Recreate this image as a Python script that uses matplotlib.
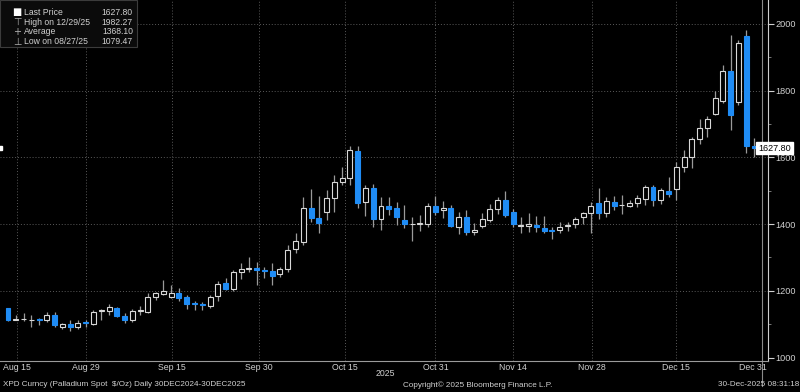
"""Palladium spot (XPD) daily candles, Bloomberg terminal style, Aug-Dec 2025."""

import matplotlib
matplotlib.use("Agg")
import matplotlib.pyplot as plt
import matplotlib.transforms as mtransforms
from matplotlib.patches import Rectangle

# daily OHLC, one entry per trading session (first = mid Aug, last = 30 Dec 2025)
opens = [1148, 1114, 1115, 1112, 1116, 1113, 1128, 1093, 1101, 1091,
         1106, 1101, 1141, 1141, 1148, 1125, 1113, 1140, 1138, 1181,
         1191, 1183, 1193, 1181, 1163, 1160, 1155, 1185, 1223, 1205,
         1258, 1265, 1269, 1262, 1259, 1250, 1265, 1326, 1346, 1448,
         1419, 1435, 1477, 1525, 1538, 1619, 1467, 1507, 1415, 1455,
         1449, 1412, 1399, 1401, 1400, 1454, 1442, 1449, 1392, 1422,
         1376, 1395, 1412, 1445, 1472, 1435, 1395, 1393, 1398, 1389,
         1381, 1382, 1393, 1399, 1422, 1432, 1462, 1432, 1467, 1456,
         1455, 1462, 1474, 1510, 1472, 1500, 1504, 1572, 1602, 1654,
         1687, 1730, 1769, 1859, 1767, 1963, 1634]
highs = [1150, 1128, 1133, 1128, 1120, 1138, 1138, 1105, 1113, 1113,
         1113, 1143, 1145, 1161, 1151, 1133, 1145, 1155, 1195, 1198,
         1233, 1218, 1208, 1189, 1171, 1168, 1189, 1230, 1238, 1263,
         1284, 1302, 1287, 1272, 1283, 1270, 1337, 1373, 1482, 1505,
         1483, 1502, 1547, 1572, 1635, 1635, 1517, 1519, 1482, 1482,
         1467, 1457, 1422, 1427, 1462, 1484, 1469, 1457, 1435, 1442,
         1402, 1432, 1459, 1482, 1499, 1445, 1421, 1434, 1425, 1425,
         1392, 1405, 1407, 1422, 1437, 1467, 1507, 1482, 1485, 1487,
         1472, 1487, 1517, 1517, 1507, 1542, 1587, 1622, 1662, 1714,
         1724, 1799, 1876, 1966, 1951, 1982.27, 1657]
lows = [1110, 1112, 1110, 1093, 1098, 1108, 1093, 1085, 1079.47, 1085,
        1091, 1098, 1113, 1128, 1122, 1103, 1108, 1128, 1135, 1173,
        1189, 1178, 1171, 1145, 1143, 1143, 1148, 1171, 1203, 1201,
        1235, 1256, 1218, 1238, 1218, 1243, 1258, 1313, 1338, 1407,
        1372, 1412, 1437, 1517, 1518, 1449, 1425, 1392, 1382, 1427,
        1397, 1389, 1350, 1380, 1392, 1427, 1417, 1390, 1370, 1367,
        1367, 1387, 1405, 1429, 1422, 1390, 1372, 1377, 1377, 1372,
        1354, 1372, 1380, 1387, 1400, 1372, 1414, 1420, 1442, 1430,
        1450, 1452, 1457, 1455, 1460, 1482, 1472, 1557, 1567, 1640,
        1660, 1727, 1762, 1682, 1757, 1612, 1600]
closes = [1113, 1116, 1117, 1114, 1113, 1128, 1098, 1101, 1091, 1105,
          1103, 1138, 1143, 1151, 1125, 1113, 1141, 1143, 1181, 1193,
          1200, 1195, 1178, 1161, 1160, 1157, 1183, 1221, 1206, 1258,
          1266, 1267, 1263, 1259, 1244, 1265, 1322, 1348, 1447, 1418,
          1404, 1478, 1527, 1538, 1622, 1462, 1507, 1415, 1455, 1445,
          1422, 1399, 1401, 1403, 1455, 1435, 1449, 1394, 1422, 1375,
          1382, 1415, 1445, 1472, 1427, 1401, 1397, 1400, 1391, 1378,
          1378, 1392, 1396, 1415, 1434, 1454, 1434, 1469, 1455, 1458,
          1464, 1477, 1510, 1472, 1502, 1490, 1572, 1602, 1655, 1687,
          1714, 1779, 1858, 1727, 1943, 1634, 1627.80]

date_labels = ["Aug 15", "Aug 29", "Sep 15", "Sep 30", "Oct 15",
               "Oct 31", "Nov 14", "Nov 28", "Dec 15", "Dec 31"]
legend_names = ["Last Price", "High on 12/29/25", "Average", "Low on 08/27/25"]
legend_values = ["1627.80", "1982.27", "1368.10", "1079.47"]
last_price = 1627.80

# layout (session-index units for the date labels)
LABEL_POS = [1.2, 10.0, 21.1, 32.3, 43.4, 55.0, 65.0, 75.1, 86.0, 95.8]
GRID_POS = [1.2, 10.0, 21.1, 32.3, 43.4, 55.0, 65.0, 75.1, 86.0]
YEAR_END = 97.0

BG = "black"
BLUE = "#1f8cf5"
WHITE = "#d8d8d8"
WICK = "#9a9a9a"
TXT = "#d0d0d0"
GRID = "#5a5a5a"

plt.rcParams["font.family"] = ["Liberation Sans", "DejaVu Sans"]


def main():
    W, H = 800, 392
    fig = plt.figure(figsize=(W / 100, H / 100), dpi=100, facecolor=BG)
    ax = fig.add_axes([0, 31 / H, 768 / W, 361 / H], facecolor=BG)

    n = len(closes)
    xs = list(range(n))

    # wicks first, bodies on top
    ax.vlines(xs, lows, highs, color=WICK, lw=0.9, zorder=3)
    for i in xs:
        o, c = opens[i], closes[i]
        down = c < o
        bottom = min(o, c)
        height = max(abs(c - o), 1.5)
        ax.bar(i, height, bottom=bottom, width=0.64,
               facecolor=BLUE if down else BG,
               edgecolor=BLUE if down else WHITE,
               linewidth=0.8, zorder=4)

    ax.set_xlim(-1.03, 97.8)
    ax.set_ylim(990, 2071)

    # dotted grid
    for y in [1200, 1400, 1600, 1800, 2000]:
        ax.axhline(y, color=GRID, lw=0.7, ls=(0, (1, 2)), zorder=1)
    for x in GRID_POS:
        ax.axvline(x, color=GRID, lw=0.7, ls=(0, (1, 2)), zorder=1)
    ax.plot([YEAR_END, YEAR_END], [-0.07, 1.0], transform=ax.get_xaxis_transform(),
            color="#8a8a8a", lw=0.8, clip_on=False, zorder=2)

    # axes frame
    for side in ["top", "left"]:
        ax.spines[side].set_visible(False)
    ax.spines["right"].set_color("#cfcfcf")
    ax.spines["bottom"].set_color("#9a9a9a")
    ax.spines["right"].set_linewidth(0.8)
    ax.spines["bottom"].set_linewidth(0.8)

    ax.yaxis.tick_right()
    ax.set_yticks([1000, 1200, 1400, 1600, 1800, 2000])
    ax.set_yticks([1100, 1300, 1500, 1700, 1900], minor=True)
    ax.tick_params(axis="y", which="major", colors=TXT, labelsize=6.6,
                   length=4, width=0.8, pad=1.5)
    ax.tick_params(axis="y", which="minor", colors="#8a8a8a", length=2, width=0.6)
    ax.set_xticks([])

    # date labels under the axis
    xt = ax.get_xaxis_transform()
    for pos, lab in zip(LABEL_POS, date_labels):
        ax.text(pos, -7 / 361, lab, transform=xt, ha="center", va="center",
                color=TXT, fontsize=6.3)
    fig.text(385 / W, 1 - 373 / H, "2025", ha="center", va="center",
             color=TXT, fontsize=6.3)

    # last price tag on the right axis, plus the small marker on the left edge
    tag_tf = mtransforms.blended_transform_factory(fig.transFigure, ax.transData)
    ax.text(758 / W, last_price, f"{last_price:.2f}", transform=tag_tf,
            ha="left", va="center", color="black", fontsize=6.5, zorder=10,
            clip_on=False,
            bbox=dict(boxstyle="square,pad=0.22", facecolor="white",
                      edgecolor="white"))
    ax.plot([-1.0], [last_price], marker="s", ms=3, color="white",
            clip_on=False, zorder=10)

    # legend block, top-left
    fig.add_artist(Rectangle((0, 1 - 47 / H), 137 / W, 47 / H,
                             transform=fig.transFigure, facecolor="#0b0b0b",
                             edgecolor="#3c3c3c", lw=0.8, zorder=5))
    icons = ["\u25A0", "\u22A4", "+", "\u22A5"]
    icon_colors = ["white", "#b0b0b0", "#b0b0b0", "#b0b0b0"]
    rows_y = [12.5, 22.3, 32.0, 41.7]
    for ic, icol, name, val, yy in zip(icons, icon_colors, legend_names,
                                       legend_values, rows_y):
        fig.text(17 / W, 1 - yy / H, ic, ha="center", va="center",
                 color=icol, fontsize=7, zorder=6, family="DejaVu Sans")
        fig.text(24 / W, 1 - yy / H, name, ha="left", va="center",
                 color=TXT, fontsize=6.2, zorder=6)
        fig.text(133 / W, 1 - yy / H, val, ha="right", va="center",
                 color=TXT, fontsize=6.2, zorder=6)

    # footer
    fy = 1 - 385 / H
    fig.text(3 / W, fy, "XPD Curncy (Palladium Spot  $/Oz) Daily 30DEC2024-30DEC2025",
             ha="left", va="center", color=TXT, fontsize=5.9)
    fig.text(403 / W, fy, "Copyright\u00a9 2025 Bloomberg Finance L.P.",
             ha="left", va="center", color=TXT, fontsize=5.9)
    fig.text(799 / W, fy, "30-Dec-2025 08:31:18", ha="right", va="center",
             color=TXT, fontsize=5.9)

    fig.savefig("out.png", dpi=100, facecolor=BG)
    plt.close(fig)


if __name__ == "__main__":
    main()
